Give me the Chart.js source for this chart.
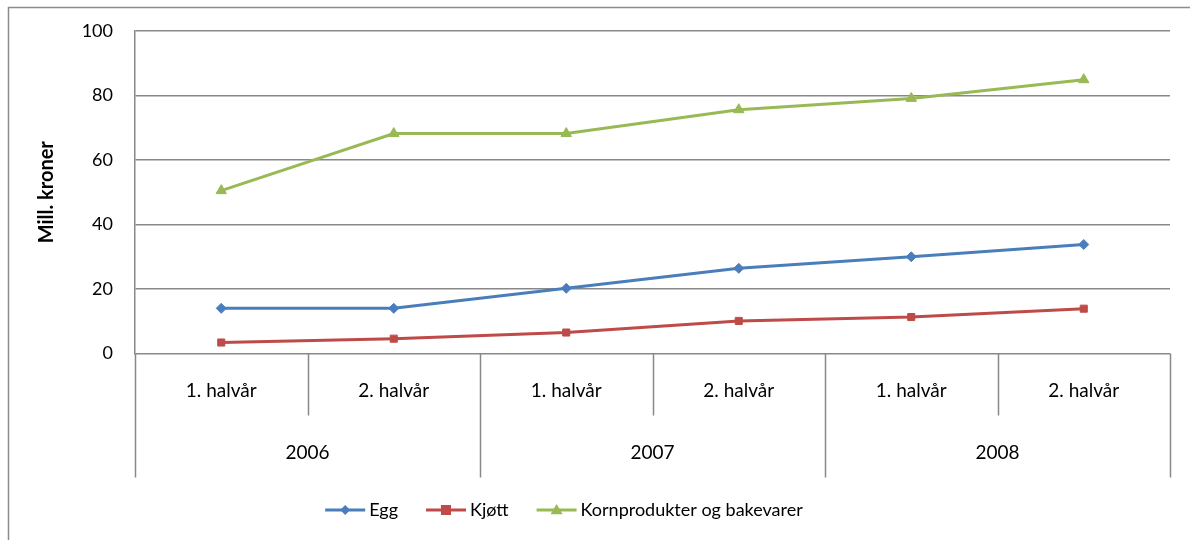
<!DOCTYPE html>
<html>
<head>
<meta charset="utf-8">
<script src="https://cdn.jsdelivr.net/npm/chart.js@4/dist/chart.umd.min.js"></script>
<style>
  html, body { margin: 0; padding: 0; background: #fff; }
  #wrap { width: 1190px; height: 540px; }
</style>
</head>
<body>
<div id="wrap"><canvas id="chart"></canvas></div>
<script>
// Half-year categories, grouped by year below the axis
const halfLabels = ['1. halvår', '2. halvår', '1. halvår', '2. halvår', '1. halvår', '2. halvår'];
const years = ['2006', '2007', '2008'];
const yTicks = [0, 20, 40, 60, 80, 100];

const egg = [14.0, 14.0, 20.2, 26.4, 30.0, 33.8];
const kjott = [3.4, 4.6, 6.5, 10.1, 11.3, 13.9];
const korn = [50.5, 68.2, 68.2, 75.6, 79.1, 84.9];

const FONT = 'Lato, "Open Sans", sans-serif';
const GRID = '#888888';

// Outer frame of the chart
const frame = {
  id: 'frame',
  beforeDraw(chart) {
    const ctx = chart.ctx;
    ctx.save();
    ctx.strokeStyle = '#8c8c8c';
    ctx.lineWidth = 1.5;
    ctx.beginPath();
    ctx.moveTo(8.5, chart.height + 2);
    ctx.lineTo(8.5, 7.5);
    ctx.lineTo(chart.width + 2, 7.5);
    ctx.stroke();
    ctx.restore();
  }
};

// Two-level category axis: half-years on top, years below
const groupedAxis = {
  id: 'groupedAxis',
  afterDraw(chart) {
    const { ctx, chartArea } = chart;
    const x = chart.scales.x;
    const half = (x.getPixelForValue(1) - x.getPixelForValue(0)) / 2;
    const base = chartArea.bottom;
    const row1 = base + 62;
    const row2 = base + 124;
    ctx.save();
    ctx.strokeStyle = GRID;
    ctx.lineWidth = 1.5;
    for (let i = 0; i <= halfLabels.length; i++) {
      const px = Math.round(x.getPixelForValue(i) - half) + 0.5;
      const bottom = i % 2 === 0 ? row2 : row1;
      ctx.beginPath();
      ctx.moveTo(px, base);
      ctx.lineTo(px, bottom);
      ctx.stroke();
    }
    ctx.fillStyle = '#000';
    ctx.textAlign = 'center';
    ctx.textBaseline = 'middle';
    ctx.font = '19px ' + FONT;
    halfLabels.forEach((lab, i) => {
      ctx.fillText(lab, x.getPixelForValue(i), base + 37);
    });
    years.forEach((yr, i) => {
      const mid = (x.getPixelForValue(i * 2) + x.getPixelForValue(i * 2 + 1)) / 2;
      ctx.fillText(yr, mid, base + 99);
    });
    ctx.restore();
  }
};

// Legend with a line segment and marker for each series
const lineLegend = {
  id: 'lineLegend',
  afterDraw(chart) {
    const ctx = chart.ctx;
    const sets = chart.data.datasets;
    const lineLen = 40, gap = 4, spacing = 28, y = 510;
    ctx.save();
    ctx.font = '18px ' + FONT;
    const widths = sets.map(d => lineLen + gap + ctx.measureText(d.label).width);
    const total = widths.reduce((a, b) => a + b, 0) + spacing * (sets.length - 1);
    let left = 564 - total / 2;
    sets.forEach((d, i) => {
      ctx.strokeStyle = d.borderColor;
      ctx.lineWidth = 3;
      ctx.beginPath();
      ctx.moveTo(left, y);
      ctx.lineTo(left + lineLen, y);
      ctx.stroke();
      ctx.fillStyle = d.pointBackgroundColor;
      ctx.beginPath();
      drawMarker(ctx, d.pointStyle, d.pointRadius, left + lineLen / 2, y);
      ctx.fill();
      ctx.fillStyle = '#000';
      ctx.textAlign = 'left';
      ctx.textBaseline = 'middle';
      ctx.fillText(d.label, left + lineLen + gap, y);
      left += widths[i] + spacing;
    });
    ctx.restore();
  }
};

function drawMarker(ctx, style, r, cx, cy) {
  if (style === 'rect') {
    ctx.rect(cx - r, cy - r, r * 2, r * 2);
  } else if (style === 'rectRot') {
    ctx.moveTo(cx, cy - r); ctx.lineTo(cx + r, cy); ctx.lineTo(cx, cy + r); ctx.lineTo(cx - r, cy); ctx.closePath();
  } else {
    ctx.moveTo(cx, cy - r); ctx.lineTo(cx + r, cy + r * 0.7); ctx.lineTo(cx - r, cy + r * 0.7); ctx.closePath();
  }
}

function series(label, data, color, style, radius) {
  return {
    label: label,
    data: data,
    borderColor: color,
    backgroundColor: color,
    pointBackgroundColor: color,
    pointBorderColor: color,
    pointStyle: style,
    pointRadius: radius,
    pointBorderWidth: 1,
    borderWidth: 3,
    tension: 0
  };
}

const ctx = document.getElementById('chart').getContext('2d');
new Chart(ctx, {
  type: 'line',
  data: {
    labels: halfLabels,
    datasets: [
      series('Egg', egg, '#4a7ebb', 'rectRot', 5),
      series('Kjøtt', kjott, '#be4b48', 'rect', 5),
      series('Kornprodukter og bakevarer', korn, '#98b954', 'triangle', 6)
    ]
  },
  options: {
    responsive: true,
    maintainAspectRatio: false,
    animation: false,
    layout: { padding: { top: 30, right: 20, left: 0, bottom: 0 } },
    plugins: {
      legend: { display: false },
      tooltip: { enabled: false }
    },
    scales: {
      x: {
        offset: true,
        grid: { display: false },
        border: { display: false },
        ticks: { display: false },
        afterFit(scale) { scale.height = 186.5; }
      },
      y: {
        min: 0,
        max: 100,
        afterBuildTicks(scale) { scale.ticks = yTicks.map(v => ({ value: v })); },
        grid: { color: GRID, lineWidth: 1.5, drawTicks: false },
        border: { display: true, color: GRID, width: 1.5 },
        ticks: { padding: 22, color: '#000', font: { family: FONT, size: 18, lineHeight: 1 } },
        title: {
          display: true,
          text: 'Mill. kroner',
          color: '#000',
          font: { family: FONT, size: 20, weight: 'bold' },
          padding: { top: 35, bottom: 0 }
        },
        afterFit(scale) { scale.width = 135; }
      }
    }
  },
  plugins: [frame, groupedAxis, lineLegend]
});
</script>
</body>
</html>
